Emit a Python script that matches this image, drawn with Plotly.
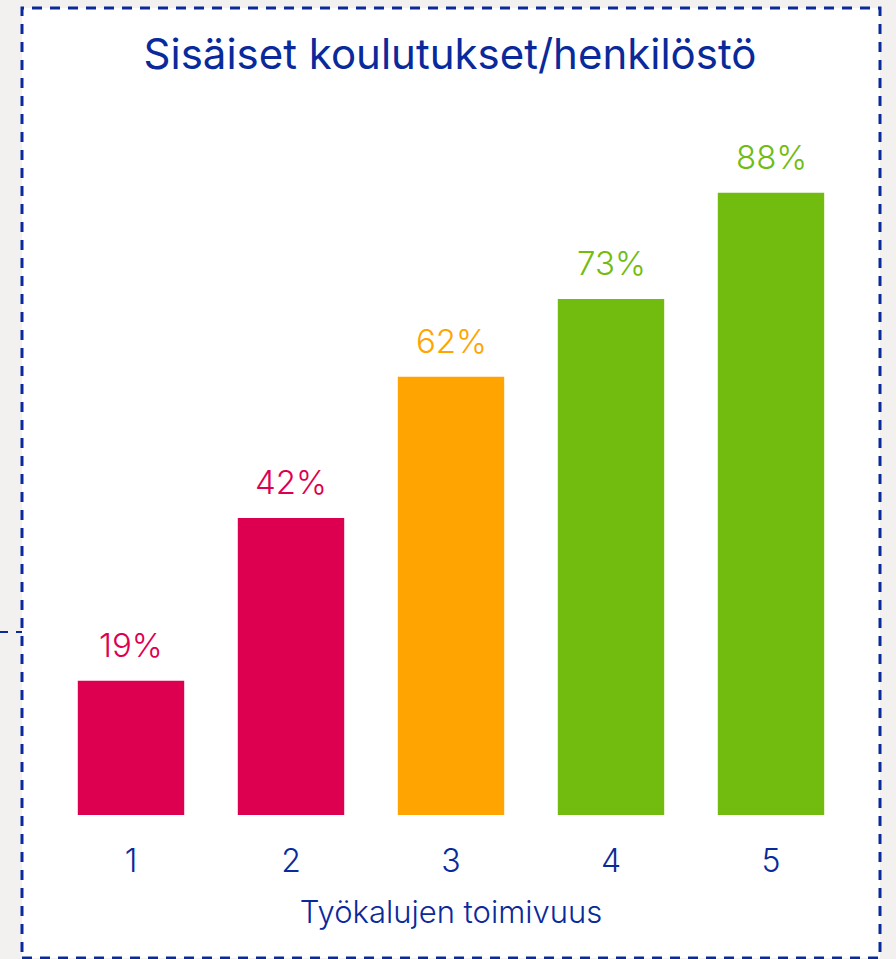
import plotly.graph_objects as go

categories = ["1", "2", "3", "4", "5"]
values = [19, 42, 62, 73, 88]
labels = ["19%", "42%", "62%", "73%", "88%"]
colors = ["#de0050", "#de0050", "#ffa400", "#72bc10", "#72bc10"]

BLUE = "#0a2a9c"
FONT = "Inter"

W, H = 896, 959
L, R, T, B = 51, 45, 108, 144
pw, ph = W - L - R, H - T - B

def px(x):
    return (x - L) / pw

def py(y):
    return (H - B - y) / ph

fig = go.Figure()
fig.add_trace(go.Bar(
    x=categories, y=values, marker=dict(color=colors, line=dict(width=0)),
    width=0.665, hoverinfo="skip",
))
for i, (v, t, col) in enumerate(zip(values, labels, colors)):
    fig.add_annotation(x=i, y=v, text=t, showarrow=False, yanchor="bottom",
                       yshift=14, font=dict(family=FONT, size=33, color=col, weight=300))

fig.add_shape(type="rect", xref="paper", yref="paper",
              x0=px(22), x1=px(880), y0=py(958), y1=py(8),
              fillcolor="white", line=dict(color=BLUE, width=3, dash="10px,8px"),
              layer="below")
fig.add_shape(type="line", xref="paper", yref="paper",
              x0=px(0), x1=px(22), y0=py(632), y1=py(632),
              line=dict(color=BLUE, width=2, dash="8px,8px"), layer="below")

fig.update_layout(
    width=W, height=H,
    margin=dict(l=L, r=R, t=T, b=B, pad=0),
    paper_bgcolor="#f2f1ef", plot_bgcolor="rgba(0,0,0,0)",
    title=dict(text="Sisäiset koulutukset/henkilöstö", x=450 / W, xanchor="center",
               y=1 - 54 / H, yanchor="middle",
               font=dict(family=FONT, size=42, color=BLUE, weight=400)),
    showlegend=False,
)
fig.update_xaxes(type="category", range=[-0.5, len(categories) - 0.5],
                 showgrid=False, showline=False, zeroline=False, ticks="",
                 ticklabelstandoff=24,
                 tickfont=dict(family=FONT, size=32, color=BLUE, weight=300),
                 title=dict(text="Työkalujen toimivuus", standoff=22,
                            font=dict(family=FONT, size=31, color=BLUE, weight=300)))
fig.update_yaxes(range=[0, 100], visible=False, showgrid=False, zeroline=False)

fig.write_html("out.html", config={"displayModeBar": False},
               post_script="document.body.style.margin='0';")
